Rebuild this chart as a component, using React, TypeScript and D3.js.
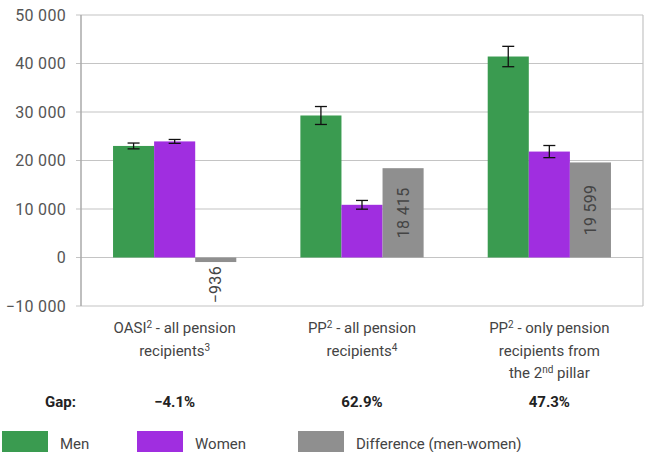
import React from "react";
import * as d3 from "d3";

const categories = [
  ["OASI|2| - all pension", "recipients|3|"],
  ["PP|2| - all pension", "recipients|4|"],
  ["PP|2| - only pension", "recipients from", "the 2|nd| pillar"],
];
const seriesNames = ["Men", "Women", "Difference (men-women)"];
const men = [23000, 29280, 41440];
const women = [23936, 10865, 21841];
const difference = [-936, 18415, 19599];
const menError = [600, 1850, 2100];
const womenError = [400, 900, 1250];
const gaps = ["\u22124.1%", "62.9%", "47.3%"];
const yTicks = [-10000, 0, 10000, 20000, 30000, 40000, 50000];

const colors = ["#3a9b50", "#a02ee0", "#8f8f8f"];
const font = "Roboto, 'Open Sans', sans-serif";

const width = 646;
const height = 452;
const marginLeft = 81;
const marginRight = 3;
const marginTop = 15;
const plotBottom = 306;

// text with |sup| parts
const Label = ({ text, x, y }) => {
  const parts = text.split("|");
  return (
    <text x={x} y={y} textAnchor="middle" fontSize={15} fill="#444" fontFamily={font}>
      {parts.map((p, i) =>
        i % 2 === 1 ? (
          <tspan key={i} fontSize={10} dy={-5}>
            {p}
          </tspan>
        ) : (
          <tspan key={i} dy={i > 0 ? 5 : 0}>
            {p}
          </tspan>
        )
      )}
    </text>
  );
};

const App = () => {
  const y = d3.scaleLinear([-10000, 50000], [plotBottom, marginTop]);
  const x = d3
    .scaleBand()
    .domain(categories.map((_, i) => String(i)))
    .range([marginLeft, width - marginRight])
    .paddingInner(0)
    .paddingOuter(0);
  const inner = d3
    .scaleBand()
    .domain(["0", "1", "2"])
    .range([0, x.bandwidth()])
    .paddingOuter(0.78)
    .paddingInner(0);
  const fmt = (v: number) => d3.format(",")(v).replace(/,/g, " ").replace("-", "\u2212");
  const series = [men, women, difference];
  const errs = [menError, womenError, null];

  return (
    <div style={{ position: "absolute", left: 0, top: 0 }}>
      <svg width={width} height={height} style={{ display: "block" }}>
        <rect width={width} height={height} fill="#fff" />
        {/* grid */}
        {yTicks.map((t) => (
          <g key={t}>
            <line
              x1={marginLeft - 5}
              x2={width - marginRight}
              y1={y(t)}
              y2={y(t)}
              stroke="#c4c4c4"
              strokeWidth={1.2}
            />
            <text
              x={66}
              y={y(t)}
              dy="0.35em"
              textAnchor="end"
              fontSize={16}
              letterSpacing={0.3}
              fill="#555"
              fontFamily={font}
            >
              {fmt(t)}
            </text>
          </g>
        ))}
        <line x1={marginLeft} x2={marginLeft} y1={y(50000)} y2={y(-10000)} stroke="#aaa" strokeWidth={1.5} />
        <line
          x1={width - marginRight}
          x2={width - marginRight}
          y1={y(50000)}
          y2={y(-10000)}
          stroke="#c4c4c4"
          strokeWidth={1.2}
        />
        {/* bars */}
        {categories.map((_, ci) => {
          const gx = x(String(ci))!;
          return (
            <g key={ci}>
              {series.map((s, si) => {
                const v = s[ci];
                const bx = gx + inner(String(si))!;
                const bw = inner.bandwidth();
                return (
                  <rect
                    key={si}
                    x={bx}
                    width={bw}
                    y={Math.min(y(v), y(0))}
                    height={Math.abs(y(v) - y(0))}
                    fill={colors[si]}
                  />
                );
              })}
              {errs.map((e, si) => {
                if (!e) return null;
                const v = series[si][ci];
                const cx = gx + inner(String(si))! + inner.bandwidth() / 2;
                const top = y(v + e[ci]);
                const bot = y(v - e[ci]);
                return (
                  <g key={si} stroke="#111" strokeWidth={1.3}>
                    <line x1={cx} x2={cx} y1={top} y2={bot} />
                    <line x1={cx - 6} x2={cx + 6} y1={top} y2={top} />
                    <line x1={cx - 6} x2={cx + 6} y1={bot} y2={bot} />
                  </g>
                );
              })}
              {(() => {
                const v = difference[ci];
                const cx = gx + inner("2")! + inner.bandwidth() / 2;
                const cy = v >= 0 ? (y(v) + y(0)) / 2 : y(v) + 4;
                return (
                  <text
                    transform={`translate(${cx},${cy}) rotate(-90)`}
                    textAnchor={v >= 0 ? "middle" : "end"}
                    dy="0.35em"
                    fontSize={16}
                    letterSpacing={0.3}
                    fill="#444"
                    fontFamily={font}
                  >
                    {fmt(v)}
                  </text>
                );
              })()}
              {categories[ci].map((line, li) => (
                <Label key={li} text={line} x={gx + x.bandwidth() / 2} y={333 + li * 22.5} />
              ))}
              <text
                x={gx + x.bandwidth() / 2}
                y={407}
                textAnchor="middle"
                fontSize={15}
                fontWeight={700}
                fill="#222"
                fontFamily={font}
              >
                {gaps[ci]}
              </text>
            </g>
          );
        })}
        <text x={45} y={407} fontSize={15} fontWeight={700} fill="#222" fontFamily={font}>
          Gap:
        </text>
        {/* legend */}
        {seriesNames.map((name, i) => {
          const lx = [2, 137, 298][i];
          return (
            <g key={name}>
              <rect x={lx} y={431} width={46} height={22} fill={colors[i]} />
              <text x={lx + 58} y={449} fontSize={15} fill="#444" fontFamily={font}>
                {name}
              </text>
            </g>
          );
        })}
      </svg>
    </div>
  );
};

export default App;
